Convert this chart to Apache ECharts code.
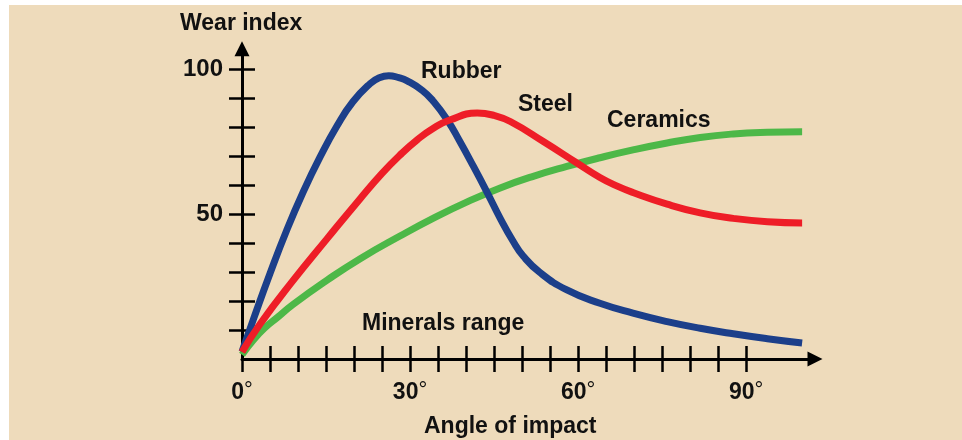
<!DOCTYPE html>
<html><head><meta charset="utf-8">
<script src="https://cdn.jsdelivr.net/npm/echarts@6/dist/echarts.min.js"></script>
<style>html,body{margin:0;padding:0;background:#fff}#c{width:962px;height:440px}</style>
</head><body><div id="c"></div>
<script>
// ---- data ----
const rubberAngles = [0, 2, 5, 8, 10.9, 13.9, 17, 19.8, 22.9, 24.5, 26.2, 28, 29.5, 32.2, 34.1, 36.6, 38.9, 41.3, 43.8, 46.1, 48.4, 50.2, 53.2, 58, 63.9, 69.8, 75.9, 81.8, 87.7, 93.8, 100];
const rubberWear   = [2.5, 13.5, 29.5, 44.5, 57.5, 69.5, 80.5, 88.7, 95.0, 97.0, 97.7, 97.0, 95.9, 92.6, 89.0, 82.6, 75.0, 66.5, 57.3, 48.5, 40.6, 35.5, 29.8, 23.8, 19.2, 15.8, 12.9, 10.6, 8.7, 7.0, 5.5];
const steelAngles  = [0, 3.2, 9.1, 15.2, 21.1, 25, 28.2, 31.3, 34.1, 37.1, 42, 45, 47.9, 53.8, 59.8, 63.9, 67, 69.8, 75.9, 81.8, 87.7, 93.8, 100];
const steelWear    = [2.4, 12.0, 27.0, 41.5, 55.3, 64.0, 70.3, 75.6, 79.5, 82.4, 84.8, 84.0, 81.9, 75.0, 67.6, 62.6, 59.6, 57.4, 53.4, 50.4, 48.5, 47.3, 46.9];
const ceramicsAngles = [0, 2, 4, 6.3, 9.1, 15.2, 21.1, 28.2, 34.1, 40.2, 46.1, 52, 58, 63.9, 69.8, 75.9, 81.8, 87.7, 93.8, 100];
const ceramicsWear   = [1.5, 6.5, 10.6, 14.3, 18.8, 27.2, 34.6, 42.4, 48.5, 54.2, 59.0, 63.0, 66.4, 69.4, 72.1, 74.5, 76.4, 77.6, 78.2, 78.4];
const xTickValues  = [0, 5, 10, 15, 20, 25, 30, 35, 40, 45, 50, 55, 60, 65, 70, 75, 80, 85, 90];
const xLabelValues = [0, 30, 60, 90];
const yTickValues  = [10, 20, 30, 40, 50, 60, 70, 80, 90, 100];
const yLabelValues = [50, 100];
const seriesNames  = ['Rubber', 'Steel', 'Ceramics'];
const chartTitle = 'Wear index';
const xTitle = 'Angle of impact';
const rangeNote = 'Minerals range';

const zip = (a, b) => a.map((v, i) => [v, b[i]]);
const FONT = '"Liberation Sans", Arial, sans-serif';
const INK = '#111';
const axisLineStyle = { color: '#000', width: 3 };
const tickStyle = { color: '#000', width: 2.5 };
const XMAX = 102.3, YMAX = 107;

const chart = echarts.init(document.getElementById('c'), null, { renderer: 'canvas' });
const txt = (text, x, y) => ({
  type: 'text', x, y, z: 50,
  style: { text, fill: INK, font: 'bold 23px ' + FONT, align: 'left', verticalAlign: 'middle' }
});
chart.setOption({
  animation: false,
  backgroundColor: '#EEDBBB',
  grid: { left: 242, right: 147, top: 48.7, bottom: 81 },
  xAxis: [{
    type: 'value', min: 0, max: XMAX, position: 'bottom',
    axisLine: { show: true, symbol: ['none', 'triangle'], symbolSize: [15, 15], lineStyle: axisLineStyle },
    axisTick: { show: true, inside: false, length: 13, customValues: xTickValues, lineStyle: tickStyle },
    axisLabel: {
      customValues: xLabelValues, margin: 21,
      formatter: v => '{n|' + v + '}{d|°}',
      rich: {
        n: { fontFamily: FONT, fontWeight: 'bold', fontSize: 23, color: INK },
        d: { fontFamily: FONT, fontWeight: 'normal', fontSize: 22, color: INK, verticalAlign: 'top', padding: [0, 0, 4, 0] }
      }
    },
    splitLine: { show: false }
  }, {
    type: 'value', min: 0, max: XMAX, position: 'bottom',
    axisLine: { show: false },
    axisTick: { show: true, inside: true, length: 13, customValues: xTickValues, lineStyle: tickStyle },
    axisLabel: { show: false },
    splitLine: { show: false }
  }],
  yAxis: [{
    type: 'value', min: 0, max: YMAX, position: 'left',
    axisLine: { show: true, symbol: ['none', 'triangle'], symbolSize: [15, 15], lineStyle: axisLineStyle },
    axisTick: { show: true, inside: false, length: 13, customValues: yTickValues, lineStyle: tickStyle },
    axisLabel: { customValues: yLabelValues, margin: 19, fontFamily: FONT, fontWeight: 'bold', fontSize: 24, color: INK },
    splitLine: { show: false }
  }, {
    type: 'value', min: 0, max: YMAX, position: 'left',
    axisLine: { show: false },
    axisTick: { show: true, inside: true, length: 13, customValues: yTickValues, lineStyle: tickStyle },
    axisLabel: { show: false },
    splitLine: { show: false }
  }],
  graphic: [
    { type: 'rect', shape: { x: 0, y: 0, width: 962, height: 5 }, style: { fill: '#fff' }, z: 100 },
    { type: 'rect', shape: { x: 0, y: 0, width: 9, height: 440 }, style: { fill: '#fff' }, z: 100 },
    txt(chartTitle, 180, 24),
    txt(xTitle, 424, 427),
    txt(rangeNote, 362, 324),
    txt(seriesNames[0], 421, 72),
    txt(seriesNames[1], 518, 105),
    txt(seriesNames[2], 607, 121)
  ],
  series: [
    { type: 'line', name: seriesNames[2], data: zip(ceramicsAngles, ceramicsWear), smooth: 0.5, symbol: 'none',
      lineStyle: { width: 7, color: '#4DB848' }, z: 2 },
    { type: 'line', name: seriesNames[0], data: zip(rubberAngles, rubberWear), smooth: 0.5, symbol: 'none',
      lineStyle: { width: 7, color: '#1C3F8A' }, z: 3 },
    { type: 'line', name: seriesNames[1], data: zip(steelAngles, steelWear), smooth: 0.5, symbol: 'none',
      lineStyle: { width: 7, color: '#EE1D27' }, z: 4 }
  ]
});
</script></body></html>
